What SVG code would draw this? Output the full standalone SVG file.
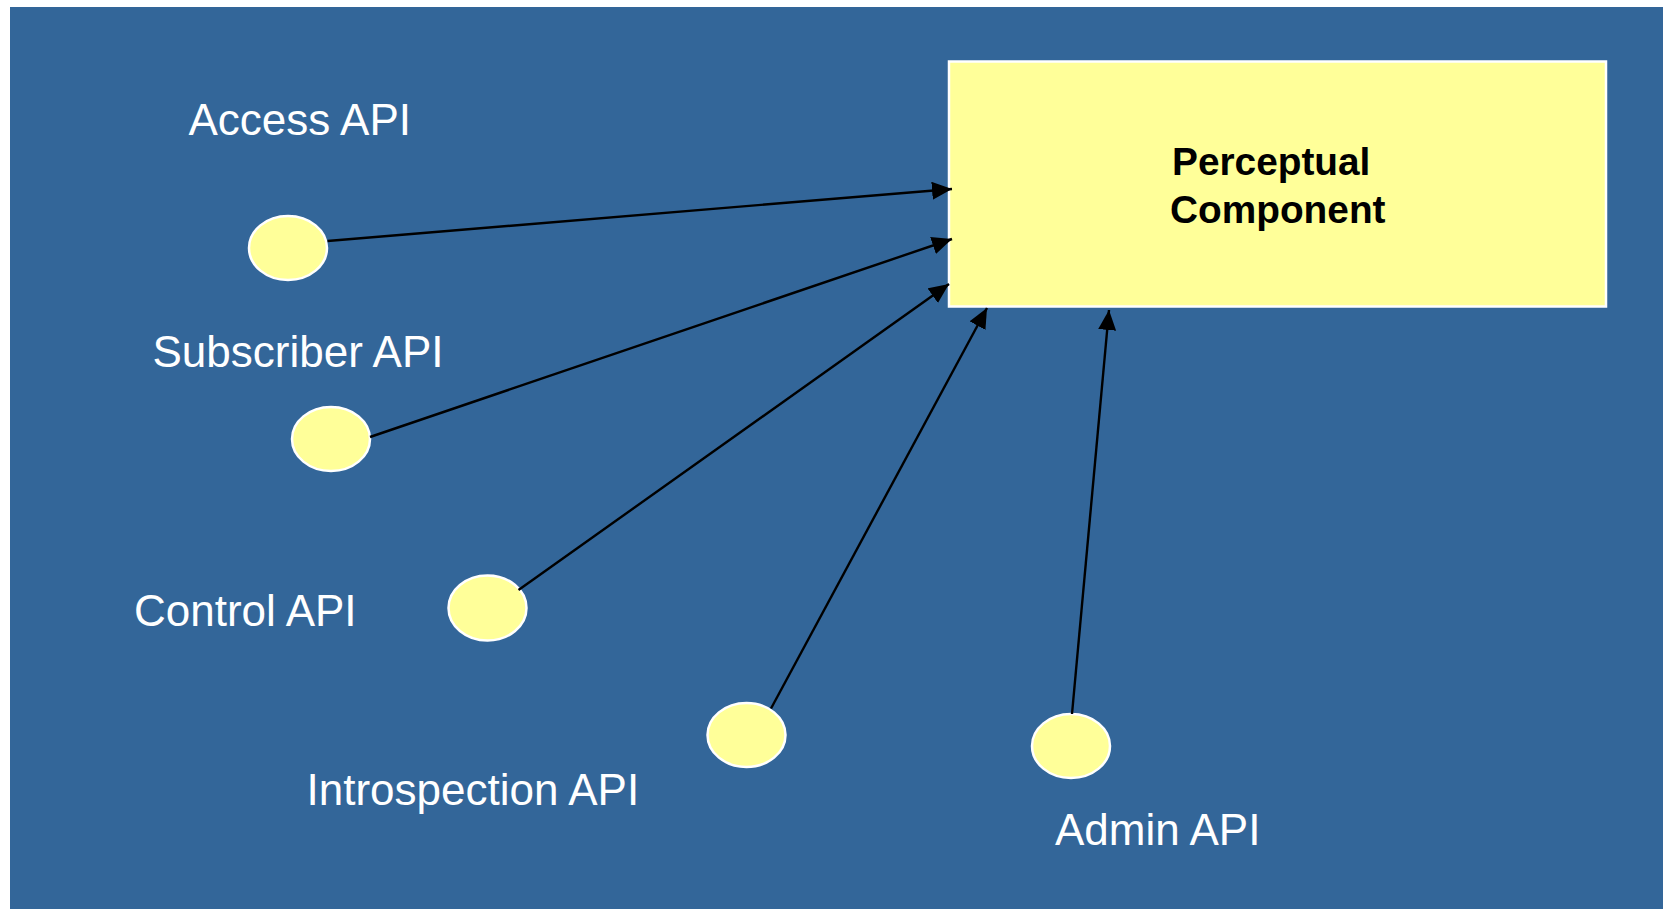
<svg xmlns="http://www.w3.org/2000/svg" width="1663" height="909" viewBox="0 0 1663 909">
<defs>
<style>
.lbl{font-family:"Liberation Sans",Arial,sans-serif;font-size:44px;fill:#ffffff;}
.title{font-family:"Liberation Sans",Arial,sans-serif;font-size:38.8px;font-weight:bold;fill:#000000;}
.api{fill:#ffff99;stroke:#ffffff;stroke-width:2.5;}
.conn{stroke:#000000;stroke-width:2.4;fill:none;marker-end:url(#ah);}
</style>
<marker id="ah" markerUnits="userSpaceOnUse" markerWidth="22" markerHeight="20" refX="20" refY="9" orient="auto">
<path d="M0,0 L20,9 L0,18 Z" fill="#000000"/>
</marker>
</defs>
<rect x="0" y="0" width="1663" height="909" fill="#ffffff"/>
<rect x="10" y="7" width="1653" height="902" fill="#336699"/>
<g id="perceptual-component">
<rect x="949" y="61.5" width="657" height="245" fill="#ffff99" stroke="#ffffff" stroke-width="2.5"/>
<text class="title" x="1172" y="175">Perceptual</text>
<text class="title" x="1170" y="222.5">Component</text>
</g>
<g id="access-api">
<ellipse class="api" cx="288" cy="248" rx="39" ry="32"/>
<text class="lbl" x="188.5" y="135">Access API</text>
</g>
<g id="subscriber-api">
<ellipse class="api" cx="331" cy="439" rx="39" ry="32"/>
<text class="lbl" x="152.5" y="367">Subscriber API</text>
</g>
<g id="control-api">
<ellipse class="api" cx="487.5" cy="608" rx="39" ry="32.5"/>
<text class="lbl" x="134" y="626">Control API</text>
</g>
<g id="introspection-api">
<ellipse class="api" cx="746.5" cy="735" rx="39" ry="32"/>
<text class="lbl" x="306.5" y="805">Introspection API</text>
</g>
<g id="admin-api">
<ellipse class="api" cx="1071" cy="746" rx="39" ry="32"/>
<text class="lbl" x="1055" y="845">Admin API</text>
</g>
<g id="connectors">
<line class="conn" x1="327.5" y1="241" x2="952" y2="189"/>
<line class="conn" x1="370" y1="437" x2="952" y2="239"/>
<line class="conn" x1="518.5" y1="590" x2="949" y2="284"/>
<line class="conn" x1="771" y1="708.5" x2="987" y2="308"/>
<line class="conn" x1="1072" y1="714" x2="1109" y2="310"/>
</g>
</svg>
